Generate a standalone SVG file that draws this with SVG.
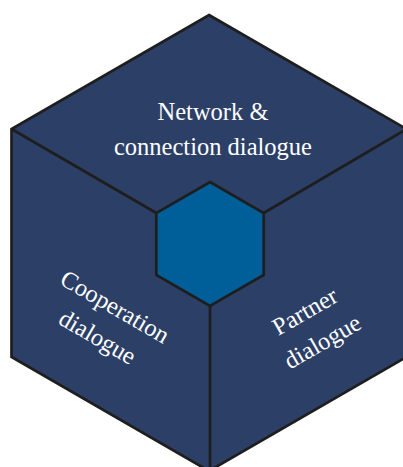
<svg xmlns="http://www.w3.org/2000/svg" width="403" height="467" viewBox="0 0 403 467">
<style>
.face{fill:#2c3f67;stroke:#1e1e1e;stroke-width:2.7;stroke-linejoin:miter}
.core{fill:#005e99;stroke:#1e1e1e;stroke-width:2.7}
.edge{fill:none;stroke:#1e1e1e;stroke-width:2.7}
.lbl{font-family:"Liberation Serif","Times New Roman",serif;font-size:24.5px;fill:#ffffff;text-anchor:middle}
</style>
<rect width="403" height="467" fill="#ffffff"/>
<g id="cube">
<polygon class="face" points="209,15 406.5,129 406.5,357 209,471 11.5,357 11.5,129"/>
</g>
<g id="connectors">
<line class="edge" x1="11.5" y1="129" x2="156.3" y2="213"/>
<line class="edge" x1="406.5" y1="129" x2="263.7" y2="213"/>
<line class="edge" x1="210" y1="306" x2="210" y2="471"/>
</g>
<g id="network-face">
<text class="lbl" x="213" y="120">Network &amp;</text>
<text class="lbl" x="213" y="155">connection dialogue</text>
</g>
<g id="cooperation-face">
<g transform="translate(106,322.5) rotate(30)">
<text class="lbl" x="0" y="-10">Cooperation</text>
<text class="lbl" x="0" y="25">dialogue</text>
</g>
</g>
<g id="partner-face">
<g transform="translate(314,327) rotate(-30)">
<text class="lbl" x="0" y="-10">Partner</text>
<text class="lbl" x="0" y="25">dialogue</text>
</g>
</g>
<g id="core">
<polygon class="core" points="210,182 263.7,213 263.7,275 210,306 156.3,275 156.3,213"/>
</g>
</svg>
